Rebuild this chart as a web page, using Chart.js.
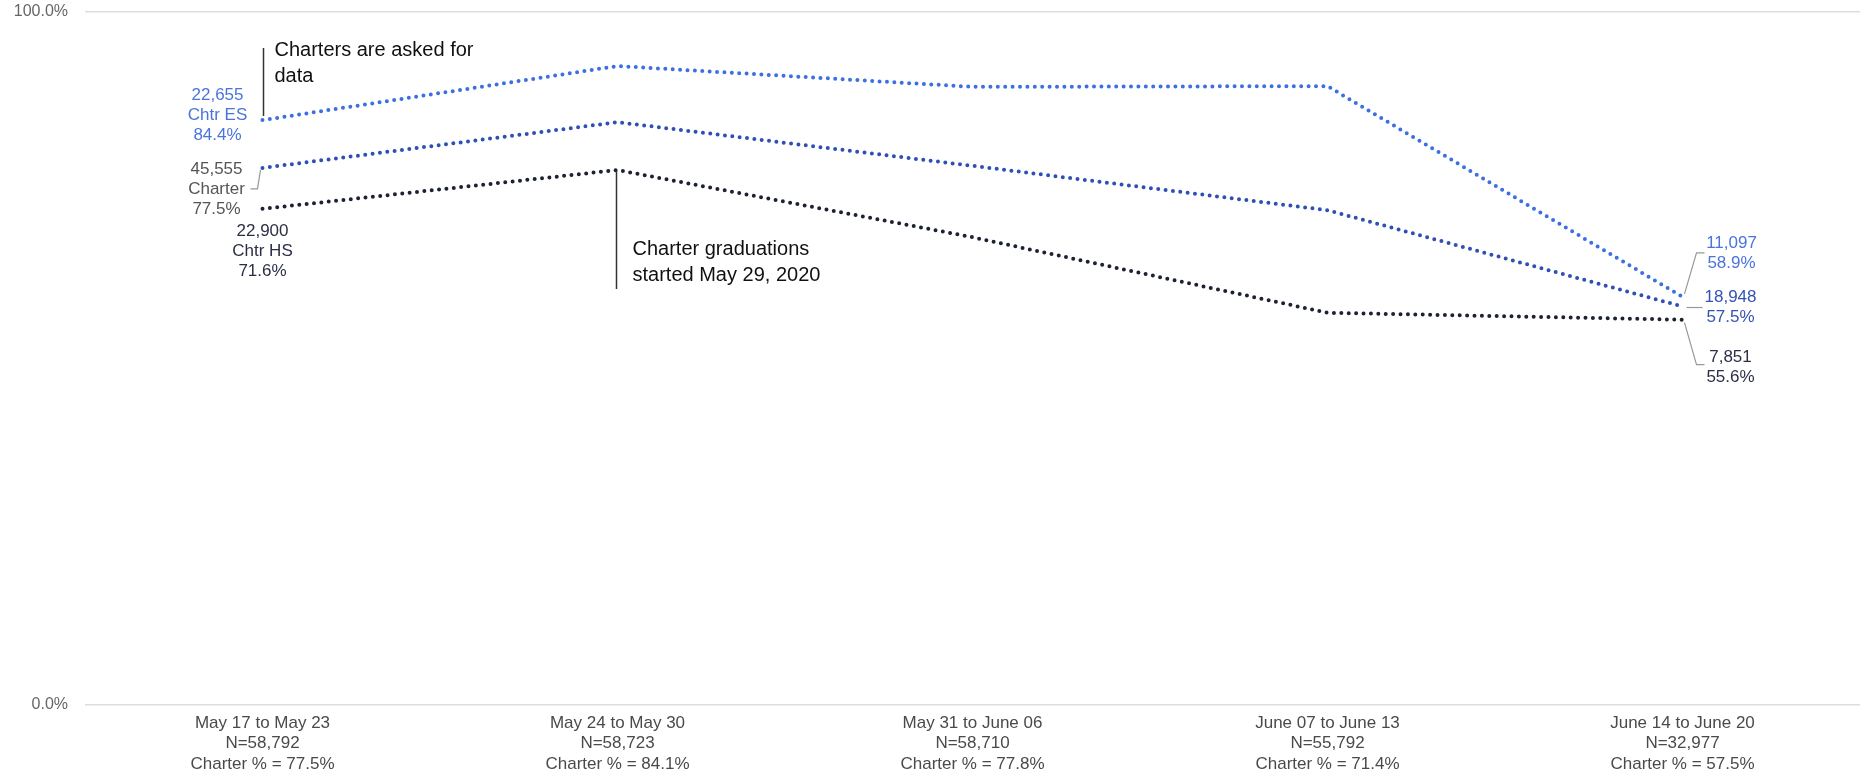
<!DOCTYPE html>
<html>
<head>
<meta charset="utf-8">
<script src="https://cdn.jsdelivr.net/npm/chart.js@4.4.1/dist/chart.umd.min.js"></script>
<style>
    html, body { margin: 0; padding: 0; background: #fff; }
    #wrap { width: 1864px; height: 778px; }
</style>
</head>
<body>
<div id="wrap"><canvas id="gradChart"></canvas></div>
<script>
// weekly ranges on the x axis
const weeks = ['May 17 to May 23', 'May 24 to May 30', 'May 31 to June 06', 'June 07 to June 13', 'June 14 to June 20'];
const weekN = [58792, 58723, 58710, 55792, 32977];

// percent series
const chtrEs = [84.4, 92.2, 89.2, 89.3, 58.9];
const charter = [77.5, 84.1, 77.8, 71.4, 57.5];
const chtrHs = [71.6, 77.2, 67.5, 56.6, 55.6];

// counts shown in the end labels (ES, Charter, HS)
const seriesNames = ['Chtr ES', 'Charter', 'Chtr HS'];
const startCounts = [22655, 45555, 22900];
const endCounts = [11097, 18948, 7851];

const yTicks = [0, 100];

const fontFam = "'Liberation Sans', Arial, sans-serif";
const fmt = n => n.toLocaleString('en-US');

const tickLabels = weeks.map((w, i) => [w, 'N=' + fmt(weekN[i]), 'Charter % = ' + charter[i].toFixed(1) + '%']);

// labels + notes drawn next to the points
const notesPlugin = {
    id: 'notes',
    afterDatasetsDraw(chart) {
        const ctx = chart.ctx;
        const pt = (ds, i) => chart.getDatasetMeta(ds).data[i];
        const es0 = pt(0, 0), ch0 = pt(1, 0), hs0 = pt(2, 0);
        const es4 = pt(0, 4), ch4 = pt(1, 4), hs4 = pt(2, 4);
        const hs1 = pt(2, 1);

        ctx.save();
        ctx.textBaseline = 'middle';
        ctx.textAlign = 'center';
        ctx.font = '17px ' + fontFam;

        function lines(arr, x, y, color) {
            ctx.fillStyle = color;
            arr.forEach((t, k) => ctx.fillText(t, x, y + k * 20));
        }
        function leader(points) {
            ctx.strokeStyle = '#999';
            ctx.lineWidth = 1.2;
            ctx.beginPath();
            ctx.moveTo(points[0][0], points[0][1]);
            points.slice(1).forEach(p => ctx.lineTo(p[0], p[1]));
            ctx.stroke();
        }

        // left labels
        lines([fmt(startCounts[0]), seriesNames[0], chtrEs[0].toFixed(1) + '%'], es0.x - 45, es0.y - 25, '#4a74dc');
        lines([fmt(startCounts[1]), seriesNames[1], charter[0].toFixed(1) + '%'], ch0.x - 46, ch0.y + 1, '#555555');
        leader([[ch0.x - 12, ch0.y + 21], [ch0.x - 5, ch0.y + 21], [ch0.x - 2, ch0.y + 2]]);
        lines([fmt(startCounts[2]), seriesNames[2], chtrHs[0].toFixed(1) + '%'], hs0.x, hs0.y + 23, '#2b2f45');

        // right labels
        lines([fmt(endCounts[0]), chtrEs[4].toFixed(1) + '%'], es4.x + 49, es4.y - 54, '#4a74dc');
        leader([[es4.x + 2, es4.y - 3], [es4.x + 14, es4.y - 44], [es4.x + 22, es4.y - 44]]);
        lines([fmt(endCounts[1]), charter[4].toFixed(1) + '%'], ch4.x + 48, ch4.y - 9, '#3452b4');
        leader([[ch4.x + 4, ch4.y + 1], [ch4.x + 20, ch4.y + 1]]);
        lines([fmt(endCounts[2]), chtrHs[4].toFixed(1) + '%'], hs4.x + 48, hs4.y + 38, '#2b2f45');
        leader([[hs4.x + 2, hs4.y + 3], [hs4.x + 14, hs4.y + 45], [hs4.x + 22, hs4.y + 45]]);

        // annotations
        ctx.strokeStyle = '#333';
        ctx.lineWidth = 1.5;
        ctx.beginPath();
        ctx.moveTo(es0.x + 1, es0.y - 72);
        ctx.lineTo(es0.x + 1, es0.y - 4);
        ctx.moveTo(hs1.x - 1, hs1.y + 1);
        ctx.lineTo(hs1.x - 1, hs1.y + 119);
        ctx.stroke();

        ctx.font = '20px ' + fontFam;
        ctx.textAlign = 'left';
        ctx.fillStyle = '#111';
        ctx.fillText('Charters are asked for', es0.x + 12, es0.y - 70);
        ctx.fillText('data', es0.x + 12, es0.y - 44);
        ctx.fillText('Charter graduations', hs1.x + 15, hs1.y + 79);
        ctx.fillText('started May 29, 2020', hs1.x + 15, hs1.y + 105);
        ctx.restore();
    }
};

const dotted = {
    borderWidth: 4,
    borderDash: [0, 7.4],
    borderCapStyle: 'round',
    pointRadius: 0,
    tension: 0,
    fill: false
};

const ctx = document.getElementById('gradChart').getContext('2d');
new Chart(ctx, {
    type: 'line',
    data: {
        labels: tickLabels,
        datasets: [
            { label: seriesNames[0], data: chtrEs, borderColor: '#3c6fe0', ...dotted },
            { label: seriesNames[1], data: charter, borderColor: '#2f4fb4', ...dotted },
            { label: seriesNames[2], data: chtrHs, borderColor: '#1c2134', ...dotted }
        ]
    },
    options: {
        responsive: true,
        maintainAspectRatio: false,
        animation: false,
        layout: { padding: { top: 12, right: 4, left: 0, bottom: 0 } },
        plugins: {
            legend: { display: false },
            tooltip: { enabled: false }
        },
        scales: {
            x: {
                offset: true,
                grid: { display: false, drawTicks: false, offset: true },
                border: { display: false },
                afterFit(scale) { scale.height = 73; },
                ticks: {
                    padding: 8,
                    maxRotation: 0,
                    autoSkip: false,
                    color: '#4a4a4a',
                    font: { family: fontFam, size: 17, lineHeight: 1.2 }
                }
            },
            y: {
                min: 0,
                max: 100,
                afterFit(scale) {
                    scale.width = 85;
                    scale.paddingTop = 0;
                    scale.paddingBottom = 0;
                },
                afterBuildTicks(scale) { scale.ticks = yTicks.map(v => ({ value: v })); },
                grid: { color: '#dddddd', lineWidth: 1.5, drawTicks: false },
                border: { display: false },
                ticks: {
                    padding: 17,
                    color: '#666',
                    font: { family: fontFam, size: 16 },
                    callback: v => v.toFixed(1) + '%'
                }
            }
        }
    },
    plugins: [notesPlugin]
});
</script>
</body>
</html>
